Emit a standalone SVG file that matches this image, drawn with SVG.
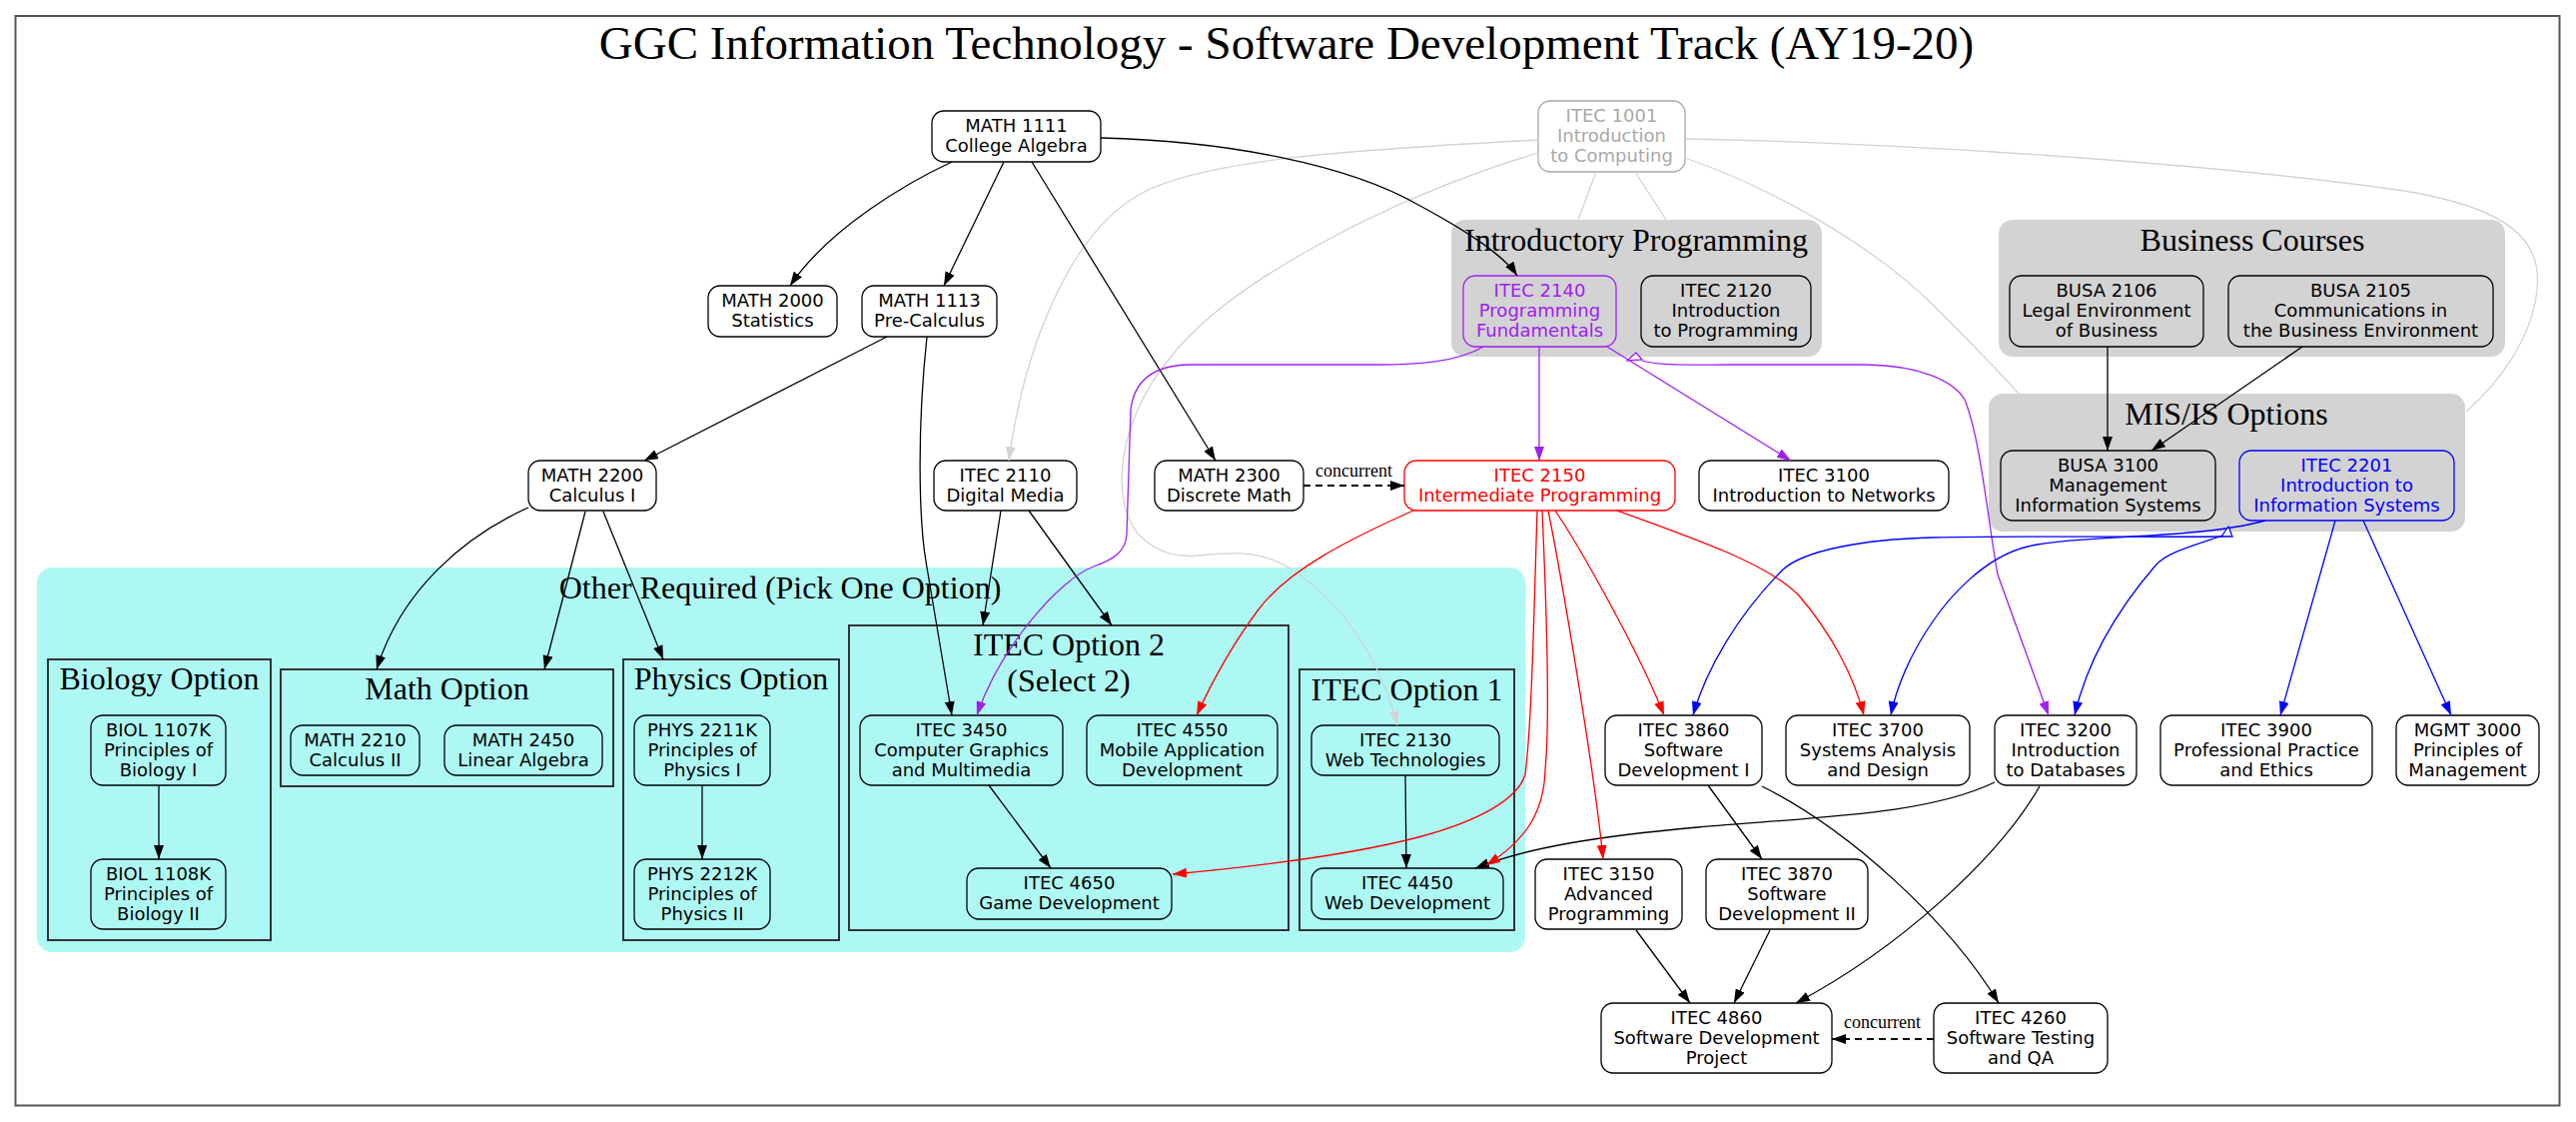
<svg xmlns="http://www.w3.org/2000/svg" width="2579" height="1123" viewBox="0 0 2579 1123">
  <style>
    .node rect { fill: none; stroke: #000; stroke-width: 1.3; }
    .nt { font-family: "DejaVu Sans", sans-serif; font-size: 18px; text-anchor: middle; fill: #000; }
    .cl { font-family: "Liberation Serif", serif; font-size: 32px; text-anchor: middle; fill: #000; }
    .lbl { font-family: "Liberation Serif", serif; font-size: 18px; text-anchor: middle; fill: #000; }
    .grey-cl { fill: #d3d3d3; stroke: none; }
    .opt-cl { fill: none; stroke: #333; stroke-width: 2; }
    .e { fill: none; stroke-width: 1.3; }
    .k { stroke: #000; }
    .r { stroke: #ff0000; }
    .b { stroke: #0000ff; }
    .p { stroke: #a020f0; }
    .g { stroke: #d3d3d3; }
    .dash { stroke: #000; stroke-width: 1.8; stroke-dasharray: 7 5; fill: none; }
    .gray-node rect { stroke: #a9a9a9; }
    .gray-node text { fill: #a9a9a9; }
    .purple-node rect { stroke: #a020f0; }
    .purple-node text { fill: #a020f0; }
    .red-node rect { stroke: #ff0000; }
    .red-node text { fill: #ff0000; }
    .blue-node rect { stroke: #0000ff; }
    .blue-node text { fill: #0000ff; }
  </style>
  <defs>
    <marker id="ak" viewBox="0 0 14 10" refX="14" refY="5" markerWidth="14" markerHeight="10" markerUnits="userSpaceOnUse" orient="auto"><path d="M0,0 L14,5 L0,10 z" fill="#000"/></marker>
    <marker id="ar" viewBox="0 0 14 10" refX="14" refY="5" markerWidth="14" markerHeight="10" markerUnits="userSpaceOnUse" orient="auto"><path d="M0,0 L14,5 L0,10 z" fill="#ff0000"/></marker>
    <marker id="ab" viewBox="0 0 14 10" refX="14" refY="5" markerWidth="14" markerHeight="10" markerUnits="userSpaceOnUse" orient="auto"><path d="M0,0 L14,5 L0,10 z" fill="#0000ff"/></marker>
    <marker id="ap" viewBox="0 0 14 10" refX="14" refY="5" markerWidth="14" markerHeight="10" markerUnits="userSpaceOnUse" orient="auto"><path d="M0,0 L14,5 L0,10 z" fill="#a020f0"/></marker>
    <marker id="ag" viewBox="0 0 14 10" refX="14" refY="5" markerWidth="14" markerHeight="10" markerUnits="userSpaceOnUse" orient="auto"><path d="M0,0 L14,5 L0,10 z" fill="#d3d3d3"/></marker>
  </defs>

  <!-- page and outer frame -->
  <rect x="0" y="0" width="2579" height="1123" fill="#fff"/>
  <rect x="15.5" y="16" width="2547" height="1090.5" fill="#fff" stroke="#555" stroke-width="2"/>
  <text x="1288" y="59" font-family="Liberation Serif, serif" font-size="47" text-anchor="middle">GGC Information Technology - Software Development Track (AY19-20)</text>

  <!-- clusters -->
  <g id="clusters">
    <g id="cluster-intro-programming">
      <rect class="grey-cl" x="1453" y="220" width="371" height="137" rx="14"/>
      <text class="cl" x="1638" y="251">Introductory Programming</text>
    </g>
    <g id="cluster-business">
      <rect class="grey-cl" x="2001" y="220" width="507" height="137" rx="14"/>
      <text class="cl" x="2255" y="251">Business Courses</text>
    </g>
    <g id="cluster-mis">
      <rect class="grey-cl" x="1991" y="394" width="477" height="138" rx="14"/>
      <text class="cl" x="2229" y="425">MIS/IS Options</text>
    </g>
    <g id="cluster-other-required">
      <rect x="37" y="568" width="1490" height="385" rx="15" fill="#aef8f4"/>
      <text class="cl" x="781" y="599">Other Required (Pick One Option)</text>
      <g id="cluster-biology">
        <rect class="opt-cl" x="48" y="660" width="223" height="281"/>
        <text class="cl" x="159.5" y="690">Biology Option</text>
      </g>
      <g id="cluster-math">
        <rect class="opt-cl" x="281" y="670" width="333" height="117"/>
        <text class="cl" x="447.5" y="700">Math Option</text>
      </g>
      <g id="cluster-physics">
        <rect class="opt-cl" x="624" y="660" width="216" height="281"/>
        <text class="cl" x="732" y="690">Physics Option</text>
      </g>
      <g id="cluster-itec-opt2">
        <rect class="opt-cl" x="850" y="626" width="440" height="305"/>
        <text class="cl" x="1070" y="656">ITEC Option 2</text>
        <text class="cl" x="1070" y="692">(Select 2)</text>
      </g>
      <g id="cluster-itec-opt1">
        <rect class="opt-cl" x="1301" y="670" width="215" height="261"/>
        <text class="cl" x="1408.5" y="701">ITEC Option 1</text>
      </g>
    </g>
  </g>

  <!-- nodes -->
  <g id="nodes">
    <g id="itec1001" class="node gray-node"><rect x="1540" y="101" width="147" height="71" rx="12"/><text class="nt"><tspan x="1613.5" y="121.5">ITEC 1001</tspan><tspan x="1613.5" y="141.5">Introduction</tspan><tspan x="1613.5" y="161.5">to Computing</tspan></text></g>
    <g id="math1111" class="node"><rect x="933" y="111" width="169" height="51" rx="12"/><text class="nt"><tspan x="1017.5" y="131.5">MATH 1111</tspan><tspan x="1017.5" y="151.5">College Algebra</tspan></text></g>
    <g id="math2000" class="node"><rect x="709" y="286" width="129" height="51" rx="12"/><text class="nt"><tspan x="773.5" y="306.5">MATH 2000</tspan><tspan x="773.5" y="326.5">Statistics</tspan></text></g>
    <g id="math1113" class="node"><rect x="863" y="286" width="135" height="51" rx="12"/><text class="nt"><tspan x="930.5" y="306.5">MATH 1113</tspan><tspan x="930.5" y="326.5">Pre-Calculus</tspan></text></g>
    <g id="itec2140" class="node purple-node"><rect x="1465" y="276" width="153" height="71" rx="12"/><text class="nt"><tspan x="1541.5" y="296.5">ITEC 2140</tspan><tspan x="1541.5" y="316.5">Programming</tspan><tspan x="1541.5" y="336.5">Fundamentals</tspan></text></g>
    <g id="itec2120" class="node"><rect x="1643" y="276" width="170" height="71" rx="12"/><text class="nt"><tspan x="1728" y="296.5">ITEC 2120</tspan><tspan x="1728" y="316.5">Introduction</tspan><tspan x="1728" y="336.5">to Programming</tspan></text></g>
    <g id="busa2106" class="node"><rect x="2012" y="276" width="194" height="71" rx="12"/><text class="nt"><tspan x="2109" y="296.5">BUSA 2106</tspan><tspan x="2109" y="316.5">Legal Environment</tspan><tspan x="2109" y="336.5">of Business</tspan></text></g>
    <g id="busa2105" class="node"><rect x="2231" y="276" width="265" height="71" rx="12"/><text class="nt"><tspan x="2363.5" y="296.5">BUSA 2105</tspan><tspan x="2363.5" y="316.5">Communications in</tspan><tspan x="2363.5" y="336.5">the Business Environment</tspan></text></g>
    <g id="math2200" class="node"><rect x="529" y="461" width="128" height="50" rx="12"/><text class="nt"><tspan x="593" y="481.5">MATH 2200</tspan><tspan x="593" y="501.5">Calculus I</tspan></text></g>
    <g id="itec2110" class="node"><rect x="935" y="461" width="143" height="50" rx="12"/><text class="nt"><tspan x="1006.5" y="481.5">ITEC 2110</tspan><tspan x="1006.5" y="501.5">Digital Media</tspan></text></g>
    <g id="math2300" class="node"><rect x="1156" y="461" width="149" height="50" rx="12"/><text class="nt"><tspan x="1230.5" y="481.5">MATH 2300</tspan><tspan x="1230.5" y="501.5">Discrete Math</tspan></text></g>
    <g id="itec2150" class="node red-node"><rect x="1406" y="461" width="271" height="50" rx="12"/><text class="nt"><tspan x="1541.5" y="481.5">ITEC 2150</tspan><tspan x="1541.5" y="501.5">Intermediate Programming</tspan></text></g>
    <g id="itec3100" class="node"><rect x="1701" y="461" width="250" height="50" rx="12"/><text class="nt"><tspan x="1826" y="481.5">ITEC 3100</tspan><tspan x="1826" y="501.5">Introduction to Networks</tspan></text></g>
    <g id="busa3100" class="node"><rect x="2003" y="451" width="215" height="70" rx="12"/><text class="nt"><tspan x="2110.5" y="471.5">BUSA 3100</tspan><tspan x="2110.5" y="491.5">Management</tspan><tspan x="2110.5" y="511.5">Information Systems</tspan></text></g>
    <g id="itec2201" class="node blue-node"><rect x="2242" y="451" width="215" height="70" rx="12"/><text class="nt"><tspan x="2349.5" y="471.5">ITEC 2201</tspan><tspan x="2349.5" y="491.5">Introduction to</tspan><tspan x="2349.5" y="511.5">Information Systems</tspan></text></g>
    <g id="biol1107k" class="node"><rect x="91" y="716" width="135" height="70" rx="12"/><text class="nt"><tspan x="158.5" y="736.5">BIOL 1107K</tspan><tspan x="158.5" y="756.5">Principles of</tspan><tspan x="158.5" y="776.5">Biology I</tspan></text></g>
    <g id="biol1108k" class="node"><rect x="91" y="860" width="135" height="70" rx="12"/><text class="nt"><tspan x="158.5" y="880.5">BIOL 1108K</tspan><tspan x="158.5" y="900.5">Principles of</tspan><tspan x="158.5" y="920.5">Biology II</tspan></text></g>
    <g id="math2210" class="node"><rect x="291" y="726" width="129" height="50" rx="12"/><text class="nt"><tspan x="355.5" y="746.5">MATH 2210</tspan><tspan x="355.5" y="766.5">Calculus II</tspan></text></g>
    <g id="math2450" class="node"><rect x="445" y="726" width="158" height="50" rx="12"/><text class="nt"><tspan x="524" y="746.5">MATH 2450</tspan><tspan x="524" y="766.5">Linear Algebra</tspan></text></g>
    <g id="phys2211k" class="node"><rect x="635" y="716" width="136" height="70" rx="12"/><text class="nt"><tspan x="703" y="736.5">PHYS 2211K</tspan><tspan x="703" y="756.5">Principles of</tspan><tspan x="703" y="776.5">Physics I</tspan></text></g>
    <g id="phys2212k" class="node"><rect x="635" y="860" width="136" height="70" rx="12"/><text class="nt"><tspan x="703" y="880.5">PHYS 2212K</tspan><tspan x="703" y="900.5">Principles of</tspan><tspan x="703" y="920.5">Physics II</tspan></text></g>
    <g id="itec3450" class="node"><rect x="861" y="716" width="203" height="70" rx="12"/><text class="nt"><tspan x="962.5" y="736.5">ITEC 3450</tspan><tspan x="962.5" y="756.5">Computer Graphics</tspan><tspan x="962.5" y="776.5">and Multimedia</tspan></text></g>
    <g id="itec4550" class="node"><rect x="1088" y="716" width="191" height="70" rx="12"/><text class="nt"><tspan x="1183.5" y="736.5">ITEC 4550</tspan><tspan x="1183.5" y="756.5">Mobile Application</tspan><tspan x="1183.5" y="776.5">Development</tspan></text></g>
    <g id="itec4650" class="node"><rect x="968" y="869" width="205" height="51" rx="12"/><text class="nt"><tspan x="1070.5" y="889.5">ITEC 4650</tspan><tspan x="1070.5" y="909.5">Game Development</tspan></text></g>
    <g id="itec2130" class="node"><rect x="1313" y="726" width="188" height="50" rx="12"/><text class="nt"><tspan x="1407" y="746.5">ITEC 2130</tspan><tspan x="1407" y="766.5">Web Technologies</tspan></text></g>
    <g id="itec4450" class="node"><rect x="1313" y="869" width="192" height="51" rx="12"/><text class="nt"><tspan x="1409" y="889.5">ITEC 4450</tspan><tspan x="1409" y="909.5">Web Development</tspan></text></g>
    <g id="itec3860" class="node"><rect x="1607" y="716" width="157" height="70" rx="12"/><text class="nt"><tspan x="1685.5" y="736.5">ITEC 3860</tspan><tspan x="1685.5" y="756.5">Software</tspan><tspan x="1685.5" y="776.5">Development I</tspan></text></g>
    <g id="itec3700" class="node"><rect x="1788" y="716" width="184" height="70" rx="12"/><text class="nt"><tspan x="1880" y="736.5">ITEC 3700</tspan><tspan x="1880" y="756.5">Systems Analysis</tspan><tspan x="1880" y="776.5">and Design</tspan></text></g>
    <g id="itec3200" class="node"><rect x="1997" y="716" width="142" height="70" rx="12"/><text class="nt"><tspan x="2068" y="736.5">ITEC 3200</tspan><tspan x="2068" y="756.5">Introduction</tspan><tspan x="2068" y="776.5">to Databases</tspan></text></g>
    <g id="itec3900" class="node"><rect x="2163" y="716" width="212" height="70" rx="12"/><text class="nt"><tspan x="2269" y="736.5">ITEC 3900</tspan><tspan x="2269" y="756.5">Professional Practice</tspan><tspan x="2269" y="776.5">and Ethics</tspan></text></g>
    <g id="mgmt3000" class="node"><rect x="2399" y="716" width="143" height="70" rx="12"/><text class="nt"><tspan x="2470.5" y="736.5">MGMT 3000</tspan><tspan x="2470.5" y="756.5">Principles of</tspan><tspan x="2470.5" y="776.5">Management</tspan></text></g>
    <g id="itec3150" class="node"><rect x="1537" y="860" width="147" height="70" rx="12"/><text class="nt"><tspan x="1610.5" y="880.5">ITEC 3150</tspan><tspan x="1610.5" y="900.5">Advanced</tspan><tspan x="1610.5" y="920.5">Programming</tspan></text></g>
    <g id="itec3870" class="node"><rect x="1708" y="860" width="162" height="70" rx="12"/><text class="nt"><tspan x="1789" y="880.5">ITEC 3870</tspan><tspan x="1789" y="900.5">Software</tspan><tspan x="1789" y="920.5">Development II</tspan></text></g>
    <g id="itec4860" class="node"><rect x="1603" y="1004" width="231" height="70" rx="12"/><text class="nt"><tspan x="1718.5" y="1024.5">ITEC 4860</tspan><tspan x="1718.5" y="1044.5">Software Development</tspan><tspan x="1718.5" y="1064.5">Project</tspan></text></g>
    <g id="itec4260" class="node"><rect x="1936" y="1004" width="174" height="70" rx="12"/><text class="nt"><tspan x="2023" y="1024.5">ITEC 4260</tspan><tspan x="2023" y="1044.5">Software Testing</tspan><tspan x="2023" y="1064.5">and QA</tspan></text></g>
  </g>

  <!-- connectors -->
  <g id="edges">
    <!-- from ITEC 1001 (light grey) -->
    <path class="e g" d="M1540,140 C1350,150 1200,160 1140,195 C1070,235 1025,350 1010,461" marker-end="url(#ag)"/>
    <path class="e g" d="M1540,153 C1400,195 1230,280 1170,360 C1120,420 1110,500 1140,535 C1160,555 1180,558 1200,556 C1230,553 1260,550 1290,568 C1350,605 1385,670 1399,726" marker-end="url(#ag)"/>
    <path class="e g" d="M1598,172 L1580,220"/>
    <path class="e g" d="M1637,172 L1668,220"/>
    <path class="e g" d="M1687,158 C1780,190 1880,250 1935,305 C1970,340 2000,370 2021,394"/>
    <path class="e g" d="M1687,139 C1900,143 2200,162 2400,190 C2520,208 2545,245 2540,290 C2535,340 2500,385 2469,412"/>

    <!-- maths and general prerequisites (black) -->
    <path class="e k" d="M953,162 C910,182 830,228 791,286" marker-end="url(#ak)"/>
    <path class="e k" d="M1005,162 L945,286" marker-end="url(#ak)"/>
    <path class="e k" d="M1033,162 L1217,461" marker-end="url(#ak)"/>
    <path class="e k" d="M1102,138 C1230,141 1350,165 1420,205 C1470,232 1505,255 1519,276" marker-end="url(#ak)"/>
    <path class="e k" d="M888,337 L645,461" marker-end="url(#ak)"/>
    <path class="e k" d="M928,337 C918,430 920,520 927,562 L953,716" marker-end="url(#ak)"/>
    <path class="e k" d="M529,508 C465,537 402,590 377,670" marker-end="url(#ak)"/>
    <path class="e k" d="M586,512 L545,670" marker-end="url(#ak)"/>
    <path class="e k" d="M604,512 L664,660" marker-end="url(#ak)"/>
    <path class="e k" d="M1002,511 L984,626" marker-end="url(#ak)"/>
    <path class="e k" d="M1030,511 L1113,626" marker-end="url(#ak)"/>
    <path class="e k" d="M990,786 L1052,869" marker-end="url(#ak)"/>
    <path class="e k" d="M159,786 L159,860" marker-end="url(#ak)"/>
    <path class="e k" d="M703,786 L703,860" marker-end="url(#ak)"/>
    <path class="e k" d="M1407,776 L1408,869" marker-end="url(#ak)"/>
    <path class="e k" d="M2110,347 L2110,451" marker-end="url(#ak)"/>
    <path class="e k" d="M2305,347 L2154,451" marker-end="url(#ak)"/>
    <path class="e k" d="M1710,786 L1764,860" marker-end="url(#ak)"/>
    <path class="e k" d="M1764,787 C1850,830 1950,920 2001,1004" marker-end="url(#ak)"/>
    <path class="e k" d="M1997,783 C1930,815 1830,817 1700,828 C1600,837 1530,848 1477,869" marker-end="url(#ak)"/>
    <path class="e k" d="M2042,787 C2000,860 1900,950 1798,1004" marker-end="url(#ak)"/>
    <path class="e k" d="M1638,931 L1692,1004" marker-end="url(#ak)"/>
    <path class="e k" d="M1772,931 L1736,1004" marker-end="url(#ak)"/>

    <!-- concurrent enrolment (dashed) -->
    <path class="dash" d="M1305,486 L1406,486" marker-end="url(#ak)"/>
    <text class="lbl" x="1355.5" y="477">concurrent</text>
    <path class="dash" d="M1936,1040 L1834,1040" marker-end="url(#ak)"/>
    <text class="lbl" x="1884.5" y="1029">concurrent</text>

    <!-- from ITEC 2140 (purple) -->
    <path class="e p" d="M1541,347 L1541,461" marker-end="url(#ap)"/>
    <path class="e p" d="M1609,347 L1793,461" marker-end="url(#ap)"/>
    <path class="e p" d="M1644,361 C1660,366 1690,365 1730,365 L1870,365 C1920,366 1955,380 1967,400 C1983,440 1990,520 2000,575 L2051,716" marker-end="url(#ap)"/>
    <polygon points="1629,361 1638,353 1644,360" fill="#fff" stroke="#a020f0" stroke-width="1.3"/>
    <path class="e p" d="M1485,347 C1460,362 1420,365 1380,365 L1190,365 C1150,366 1135,385 1132,410 L1128,535 C1127,552 1115,560 1095,567 C1060,580 1000,650 978,716" marker-end="url(#ap)"/>

    <!-- from ITEC 2150 (red) -->
    <path class="e r" d="M1415,511 C1350,540 1290,570 1260,610 C1230,650 1210,690 1198,716" marker-end="url(#ar)"/>
    <path class="e r" d="M1539,511 C1536,600 1534,720 1527,775 C1520,800 1480,822 1420,838 C1350,856 1250,868 1174,875" marker-end="url(#ar)"/>
    <path class="e r" d="M1544,511 C1548,600 1552,720 1547,770 C1546,810 1530,840 1488,866" marker-end="url(#ar)"/>
    <path class="e r" d="M1550,511 C1560,560 1595,760 1605,860" marker-end="url(#ar)"/>
    <path class="e r" d="M1557,511 C1580,545 1640,650 1666,716" marker-end="url(#ar)"/>
    <path class="e r" d="M1619,511 C1700,540 1770,565 1800,595 C1835,635 1857,680 1866,716" marker-end="url(#ar)"/>

    <!-- from ITEC 2201 / MIS-IS options (blue) -->
    <path class="e b" d="M2226,537 C2150,538 2000,536 1935,538 C1860,540 1805,552 1785,570 C1740,615 1708,670 1695,716" marker-end="url(#ab)"/>
    <path class="e b" d="M2268,521 C2200,540 2080,535 2030,547 C1985,558 1950,600 1935,622 C1912,655 1898,690 1893,716" marker-end="url(#ab)"/>
    <path class="e b" d="M2231,534 C2200,545 2170,552 2158,566 C2120,610 2090,660 2077,716" marker-end="url(#ab)"/>
    <polygon points="2224,537 2235,537 2231,527" fill="#fff" stroke="#0000ff" stroke-width="1.3"/>
    <path class="e b" d="M2338,521 L2283,716" marker-end="url(#ab)"/>
    <path class="e b" d="M2366,521 L2454,716" marker-end="url(#ab)"/>
  </g>
</svg>
